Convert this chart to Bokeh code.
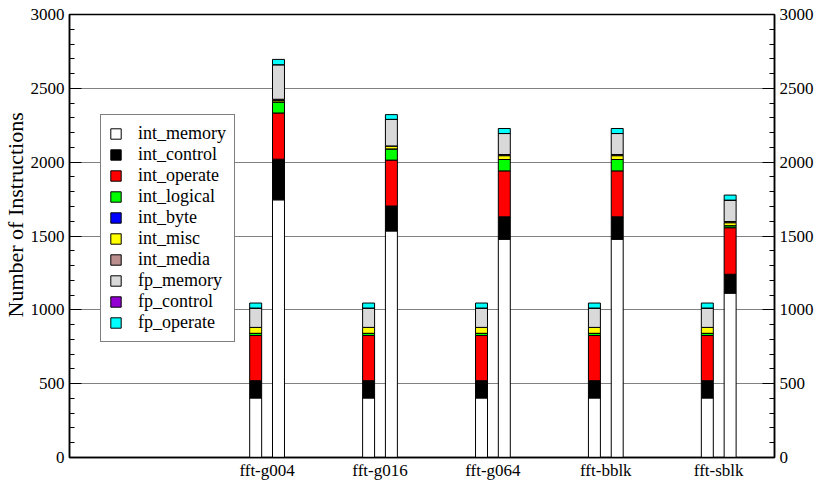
from bokeh.plotting import figure
from bokeh.models import (ColumnDataSource, Range1d, LinearAxis, SingleIntervalTicker,
                          FixedTicker, Legend, Title)
from bokeh.embed import file_html
from bokeh.resources import INLINE

# ---- data ----
groups = ["fft-g004", "fft-g016", "fft-g064", "fft-bblk", "fft-sblk"]
series = ["int_memory", "int_control", "int_operate", "int_logical", "int_byte",
          "int_misc", "int_media", "fp_memory", "fp_control", "fp_operate"]
colors = ["#ffffff", "#000000", "#ff0000", "#00ff00", "#0000ff",
          "#ffff00", "#bc8f8f", "#d9d9d9", "#9400d3", "#00ffff"]

# two bars per group: [g004 a, g004 b, g016 a, g016 b, g064 a, g064 b, bblk a, bblk b, sblk a, sblk b]
int_memory  = [403, 1745, 403, 1534, 403, 1478, 403, 1478, 403, 1113]
int_control = [117,  275, 117,  169, 117,  152, 117,  152, 117,  128]
int_operate = [306,  313, 306,  311, 306,  311, 306,  311, 306,  315]
int_logical = [ 15,   75,  15,   76,  15,   77,  15,   77,  15,   14]
int_byte    = [  0,    0,   0,    0,   0,    0,   0,    0,   0,    0]
int_misc    = [ 40,   10,  40,   20,  40,   26,  40,   26,  40,   20]
int_media   = [  0,    8,   0,    0,   0,    8,   0,    8,   0,    8]
fp_memory   = [131,  234, 131,  180, 131,  142, 131,  142, 131,  145]
fp_control  = [  0,    0,   0,    0,   0,    0,   0,    0,   0,    0]
fp_operate  = [ 34,   36,  34,   32,  34,   34,  34,   34,  34,   34]

y_ticks = [0, 500, 1000, 1500, 2000, 2500, 3000]
y_title = "Number of Instructions"

# ---- layout ----
offset = 0.101
bar_w = 0.106
xs = []
for i in range(len(groups)):
    xs += [i + 1 - offset, i + 1 + offset]

data = dict(x=xs)
vals = [int_memory, int_control, int_operate, int_logical, int_byte,
        int_misc, int_media, fp_memory, fp_control, fp_operate]
for name, v in zip(series, vals):
    data[name] = v
source = ColumnDataSource(data)

FONT = "Liberation Serif"
TICK_SIZE = "17px"

p = figure(width=816, height=482, output_backend="svg", toolbar_location=None,
           x_range=Range1d(-0.750, 5.494), y_range=Range1d(0, 3000),
           min_border_left=67, min_border_right=41, min_border_top=14, min_border_bottom=24,
           y_axis_location=None, x_axis_location=None)
p.outline_line_color = "black"
p.outline_line_width = 1.5
p.background_fill_color = "white"
p.xgrid.visible = False
p.ygrid.ticker = FixedTicker(ticks=y_ticks)
p.ygrid.grid_line_color = "#808080"
p.ygrid.grid_line_width = 1.2

renderers = p.vbar_stack(series, x="x", width=bar_w, color=colors, line_color="black",
                         line_width=1, source=source)

def make_y_axis():
    ax = LinearAxis(ticker=SingleIntervalTicker(interval=500, num_minor_ticks=5))
    ax.major_tick_in = 12
    ax.major_tick_out = 0
    ax.minor_tick_in = 5
    ax.minor_tick_out = 0
    ax.axis_line_width = 1.5
    ax.major_tick_line_width = 1.2
    ax.major_label_text_font = FONT
    ax.major_label_text_font_size = TICK_SIZE
    ax.major_label_text_color = "black"
    ax.major_label_standoff = 5
    return ax

left = make_y_axis()
p.add_layout(left, "left")

right = make_y_axis()
p.add_layout(right, "right")

# y-axis title, off-centre towards the top as in the reference
ytitle = Title(text=y_title, align="left", offset=140, standoff=0,
               text_font=FONT, text_font_size="22px", text_font_style="normal",
               text_color="black")
p.add_layout(ytitle, "left")

bottom = LinearAxis(ticker=FixedTicker(ticks=[1, 2, 3, 4, 5]))
bottom.major_label_overrides = {i + 1: g for i, g in enumerate(groups)}
bottom.major_tick_in = 0
bottom.major_tick_out = 0
bottom.minor_tick_line_color = None
bottom.axis_line_width = 1.5
bottom.major_label_text_font = FONT
bottom.major_label_text_font_size = TICK_SIZE
bottom.major_label_text_color = "black"
bottom.major_label_standoff = 3
p.add_layout(bottom, "below")

legend = Legend(items=[(name, [r]) for name, r in zip(series, renderers)],
                location=(31, 115))
legend.label_text_font = FONT
legend.label_text_font_size = "18px"
legend.label_text_color = "black"
legend.glyph_width = 13
legend.glyph_height = 13
legend.label_height = 21
legend.spacing = 0
legend.padding = 8
legend.margin = 0
legend.label_standoff = 16
legend.border_line_color = "black"
legend.border_line_width = 1
legend.background_fill_alpha = 1
p.add_layout(legend, "center")

open("out.html", "w").write(file_html(p, INLINE))
